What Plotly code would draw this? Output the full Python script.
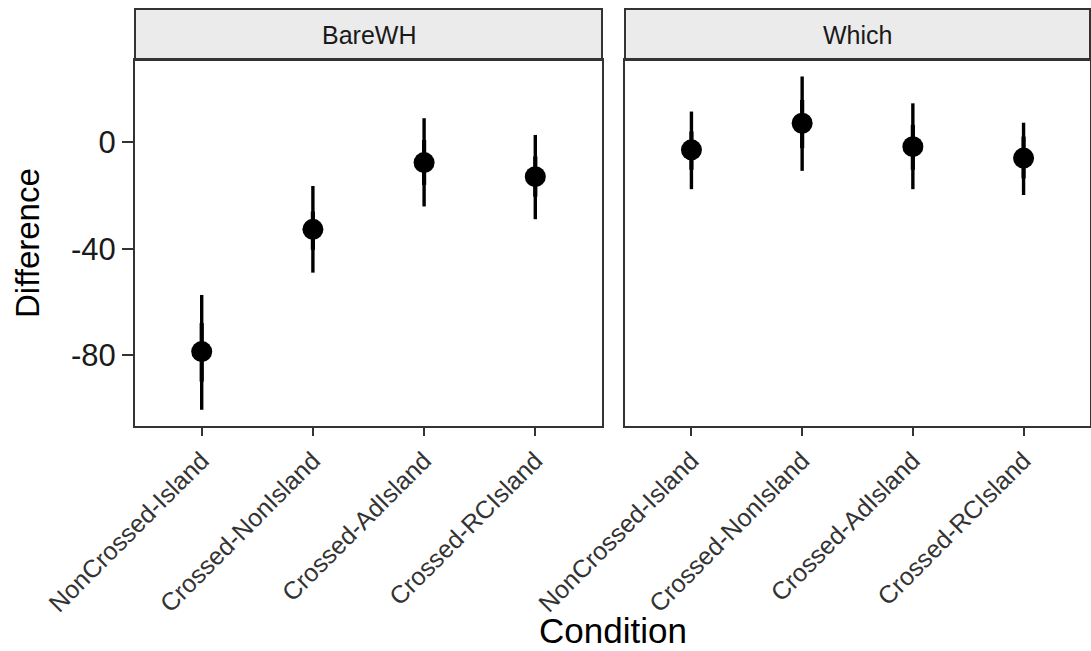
import plotly.graph_objects as go

conditions = ["NonCrossed-Island", "Crossed-NonIsland", "Crossed-AdIsland", "Crossed-RCIsland"]
positions = [1, 2, 3, 4]
panels = ["BareWH", "Which"]

bare_mean = [-78.7, -32.7, -7.6, -12.9]
bare_lo = [-100.6, -49.0, -24.1, -28.9]
bare_hi = [-57.4, -16.4, 9.1, 2.8]
bare_in_lo = [-90.0, -40.4, -16.0, -20.4]
bare_in_hi = [-68.0, -26.0, 0.9, -5.3]

which_mean = [-2.8, 7.2, -1.6, -5.9]
which_lo = [-17.6, -10.7, -17.6, -19.8]
which_hi = [11.6, 24.8, 14.7, 7.4]
which_in_lo = [-10.3, -2.2, -10.3, -13.5]
which_in_hi = [4.1, 16.0, 6.6, 2.2]

yticks = [0, -40, -80]

W, H = 1091, 651
ml, mr, mt, mb = 135, 1, 9, 225
pw = W - ml - mr
ph = H - mt - mb
dom1 = [0, (602 - ml) / pw]
dom2 = [(625 - ml) / pw, 1.0]
ytop = (426 - 60) / ph

FONT = "Liberation Sans, Arial, Helvetica, sans-serif"
BORDER = "#333333"

fig = go.Figure()

series = [
    ("x", "y", bare_mean, bare_lo, bare_hi, bare_in_lo, bare_in_hi),
    ("x2", "y2", which_mean, which_lo, which_hi, which_in_lo, which_in_hi),
]
for xa, ya, m, lo, hi, ilo, ihi in series:
    fig.add_trace(go.Scatter(
        x=positions, y=m, xaxis=xa, yaxis=ya, mode="markers",
        marker=dict(size=0.1, color="black", opacity=0),
        error_y=dict(type="data", symmetric=False,
                     array=[h - v for h, v in zip(hi, m)],
                     arrayminus=[v - l for v, l in zip(m, lo)],
                     width=0, thickness=3.4, color="black"),
        showlegend=False, hoverinfo="skip"))
    fig.add_trace(go.Scatter(
        x=positions, y=m, xaxis=xa, yaxis=ya, mode="markers",
        marker=dict(size=0.1, color="black", opacity=0),
        error_y=dict(type="data", symmetric=False,
                     array=[h - v for h, v in zip(ihi, m)],
                     arrayminus=[v - l for v, l in zip(m, ilo)],
                     width=0, thickness=4.2, color="black"),
        showlegend=False, hoverinfo="skip"))
    fig.add_trace(go.Scatter(
        x=positions, y=m, xaxis=xa, yaxis=ya, mode="markers",
        marker=dict(size=21, color="black", line=dict(width=0)),
        showlegend=False))

xcommon = dict(range=[0.4, 4.6], tickmode="array", tickvals=positions, ticktext=conditions,
               tickangle=-45, tickfont=dict(family=FONT, size=25, color="#333333"),
               ticks="outside", ticklen=8, tickwidth=1.6, tickcolor=BORDER,
               showline=True, linecolor=BORDER, linewidth=2, mirror=True,
               showgrid=False, zeroline=False, fixedrange=True)
ycommon = dict(range=[-106.7, 31.0], showgrid=False, zeroline=False,
               showline=True, linecolor=BORDER, linewidth=2, mirror=True,
               domain=[0, ytop], fixedrange=True)

fig.update_layout(
    width=W, height=H,
    margin=dict(l=ml, r=mr, t=mt, b=mb, autoexpand=False),
    paper_bgcolor="white", plot_bgcolor="white",
    xaxis=dict(domain=dom1, anchor="y", **xcommon),
    xaxis2=dict(domain=dom2, anchor="y2", **xcommon),
    yaxis=dict(anchor="x", tickmode="array", tickvals=yticks, ticktext=[str(v) for v in yticks],
               tickfont=dict(family=FONT, size=31, color="#1a1a1a"),
               ticks="outside", ticklen=11, tickwidth=1.6, tickcolor=BORDER, **ycommon),
    yaxis2=dict(anchor="x2", matches="y", showticklabels=False, ticks="", **ycommon),
    showlegend=False,
)

# facet strips
for dom, name in zip([dom1, dom2], panels):
    fig.add_shape(type="rect", xref="paper", yref="paper",
                  x0=dom[0], x1=dom[1], y0=ytop, y1=1.0,
                  fillcolor="#ebebeb", line=dict(color=BORDER, width=2), layer="below")
    fig.add_annotation(x=(dom[0] + dom[1]) / 2, y=(ytop + 1.0) / 2, xref="paper", yref="paper",
                       text=name, showarrow=False,
                       font=dict(family=FONT, size=25, color="#1a1a1a"),
                       xanchor="center", yanchor="middle")

# axis titles
fig.add_annotation(x=0.5, y=-(651 - 426 + 1) / ph, xref="paper", yref="paper",
                   text="Condition", showarrow=False, xanchor="center", yanchor="bottom",
                   font=dict(family=FONT, size=35, color="black"))
fig.add_annotation(x=-(135 - 27) / pw, y=ytop / 2, xref="paper", yref="paper",
                   text="Difference", showarrow=False, textangle=-90,
                   xanchor="center", yanchor="middle",
                   font=dict(family=FONT, size=33, color="black"))

fig.write_html("out.html", config={"displayModeBar": False})
